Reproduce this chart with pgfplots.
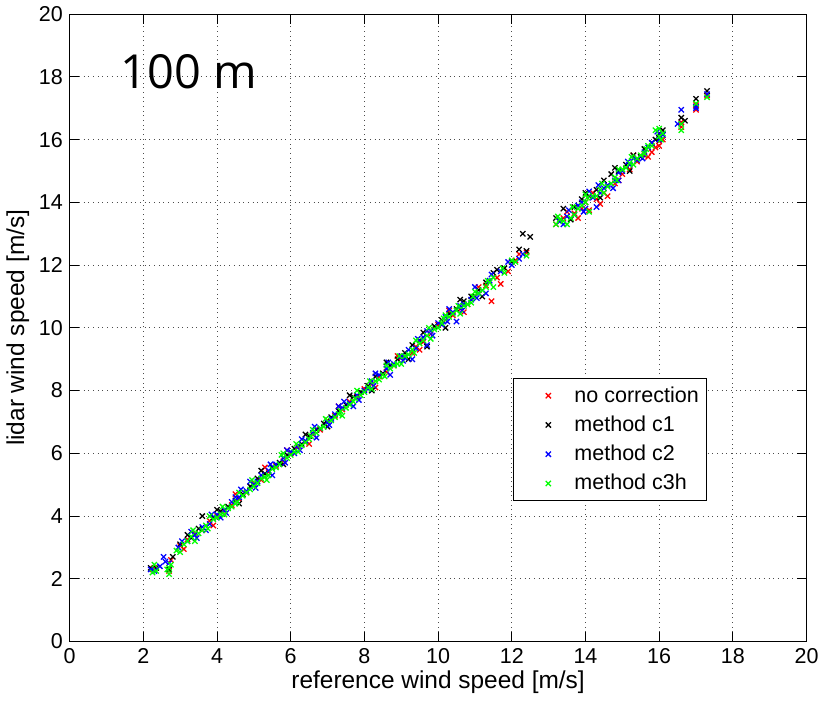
\documentclass[border=0pt]{standalone}
\usepackage{pgfplots}
\pgfplotsset{compat=1.18}
\usepackage{fontspec}
\setmainfont{Liberation Sans}
\newfontfamily\titlefont{Open Sans}

\definecolor{mred}{RGB}{255,0,0}
\definecolor{mblue}{RGB}{0,0,255}
\definecolor{mgreen}{RGB}{0,255,0}

\begin{document}
\begin{tikzpicture}
\begin{axis}[
    scale only axis,
    width=377pt,
    height=321pt,
    xmin=0, xmax=20,
    ymin=0, ymax=20,
    xtick={0,2,...,20},
    ytick={0,2,...,20},
    tick align=inside,
    major tick length=5pt,
    xmajorgrids=true,
    ymajorgrids=true,
    grid style={dotted, black!70},
    axis line style={line width=0.6pt},
    tick style={black, line width=0.5pt},
    tick label style={font=\fontsize{11}{13}\selectfont},
    label style={font=\fontsize{12.5}{14}\selectfont},
    /pgf/number format/assume math mode=true,
    xlabel={reference wind speed [m/s]},
    ylabel={lidar wind speed [m/s]},
    xlabel style={yshift=3pt},
    ylabel style={yshift=-2pt},
    legend cell align={left},
    legend style={at={(0.602,0.420)}, anchor=north west,
        font=\fontsize{11}{13}\selectfont, draw=black, line width=0.6pt,
        row sep=1.5pt, inner sep=2pt},
    legend image code/.code={\path[draw=none, fill=none] (0cm,0cm) -- (0.95cm,0cm); \draw[#1] plot[only marks] coordinates {(0.55cm,0cm)};},
    every axis plot/.append style={only marks, mark=x, mark size=1.9pt, line width=0.65pt},
]

\addplot[color=mred] coordinates {
(2.25,2.3)(2.3,2.35)(2.7,2.25)(2.75,2.6)(3.0,3.05)(3.2,3.25)(3.4,3.45)(3.6,3.55)
(3.8,3.85)(4.0,4.0)(4.2,4.15)(4.4,4.35)(4.6,4.55)(4.8,4.75)(5.0,5.05)(5.2,5.15)
(5.4,5.4)(5.6,5.6)(5.8,5.75)(6.0,6.0)(6.2,6.2)(6.4,6.35)(6.6,6.6)(6.8,6.75)
(7.0,7.05)(7.2,7.2)(7.4,7.4)(7.6,7.65)(7.8,7.8)(8.0,8.05)(8.2,8.2)(8.4,8.45)
(8.6,8.6)(8.8,8.8)(9.0,9.05)(9.3,9.2)(9.4,9.4)(9.6,9.55)(9.8,9.8)(10.0,10.1)
(10.2,10.25)(10.4,10.4)(10.6,10.6)(10.8,10.75)(11.0,11.0)(11.3,11.35)(11.45,10.85)
(11.6,11.6)(11.9,11.8)(12.1,12.15)(12.4,12.4)(13.2,13.3)(13.4,13.5)(13.7,13.65)
(13.9,13.8)(14.0,14.0)(14.1,13.75)(14.3,14.1)(14.5,14.3)(14.6,14.2)(14.8,14.6)
(15.0,14.9)(15.2,15.05)(15.4,15.3)(15.6,15.5)(15.8,15.6)(16.0,15.8)(16.1,16.0)
(16.6,16.4)(17.0,17.1)(17.3,17.4)
(3.1,2.95)(3.9,3.7)(4.5,4.7)(5.3,5.55)(5.9,6.1)(6.5,6.3)(7.3,7.5)(8.3,8.1)
(8.9,9.1)(9.5,9.3)(10.3,10.55)(10.7,10.5)(11.1,11.3)(11.7,11.4)(12.2,12.35)
(13.5,13.7)(13.8,13.5)(14.2,14.3)(14.4,13.95)(14.9,14.7)(15.3,15.5)(15.7,15.45)
(15.9,15.75)(16.0,15.95)(16.6,16.55)(17.0,16.95)
};
\addlegendentry{no correction}

\addplot[color=black] coordinates {
(2.2,2.35)(2.35,2.35)(2.7,2.3)(2.8,2.7)(3.0,3.1)(3.3,3.3)(3.5,3.6)(3.6,4.0)
(3.9,3.95)(4.1,4.15)(4.3,4.3)(4.5,4.5)(4.7,4.7)(4.9,4.95)(5.1,5.2)(5.3,5.35)
(5.5,5.55)(5.7,5.7)(5.9,5.95)(6.1,6.15)(6.3,6.3)(6.5,6.55)(6.7,6.75)(6.9,6.95)
(7.1,7.15)(7.3,7.35)(7.5,7.55)(7.7,7.8)(7.9,7.95)(8.1,8.15)(8.3,8.45)(8.5,8.55)
(8.7,8.8)(8.9,9.0)(9.1,9.2)(9.3,9.45)(9.5,9.6)(9.7,9.4)(9.9,10.05)(10.1,10.25)
(10.3,10.45)(10.5,10.6)(10.7,10.85)(10.9,11.0)(11.1,11.2)(11.3,11.45)(11.5,11.75)
(11.8,11.9)(12.0,12.1)(12.2,12.5)(12.3,13.0)(12.5,12.9)(13.2,13.5)(13.4,13.8)
(13.7,13.85)(13.9,14.1)(14.1,14.2)(14.3,14.4)(14.5,14.7)(14.7,14.9)(14.9,15.0)
(15.1,15.2)(15.3,15.5)(15.6,15.7)(15.8,15.9)(16.0,16.2)(16.0,16.05)(16.6,16.7)
(17.0,17.3)(17.3,17.55)
(3.2,3.4)(4.0,4.2)(4.6,4.4)(5.2,5.45)(5.8,5.65)(6.4,6.6)(7.0,6.85)(7.6,7.85)
(8.2,8.0)(8.6,8.9)(9.2,9.0)(9.6,9.85)(10.2,10.0)(10.6,10.9)(11.2,11.0)(11.6,11.85)
(12.4,12.45)(13.3,13.4)(13.6,13.45)(14.0,14.3)(14.4,14.15)(14.8,15.1)(15.2,15.0)
(15.5,15.45)(15.9,16.0)(16.1,16.3)(16.7,16.6)
};
\addlegendentry{method c1}

\addplot[color=mblue] coordinates {
(2.2,2.3)(2.3,2.25)(2.55,2.7)(2.7,2.5)(2.95,3.0)(3.2,3.2)(3.4,3.4)(3.6,3.65)
(3.8,3.75)(4.0,4.05)(4.2,4.2)(4.4,4.45)(4.6,4.6)(4.8,4.8)(5.0,5.0)(5.2,5.3)
(5.4,5.45)(5.6,5.65)(5.8,5.85)(6.0,6.05)(6.2,6.25)(6.4,6.4)(6.6,6.65)(6.8,6.8)
(7.0,7.0)(7.2,7.25)(7.4,7.45)(7.6,7.6)(7.8,7.85)(8.0,8.0)(8.2,8.3)(8.4,8.5)
(8.6,8.7)(8.8,8.85)(9.0,9.1)(9.2,9.3)(9.4,9.35)(9.6,9.7)(9.8,9.9)(10.0,10.15)
(10.2,10.35)(10.4,10.5)(10.6,10.7)(9.7,9.45)(10.9,10.9)(11.1,11.1)(11.4,11.5)
(11.7,11.8)(12.0,12.0)(12.3,12.35)(13.3,13.4)(13.5,13.55)(13.7,13.6)(13.9,14.0)
(14.0,13.8)(14.2,14.15)(14.4,14.3)(14.6,14.55)(14.8,14.7)(15.0,15.0)(15.2,15.2)
(15.4,15.35)(15.6,15.6)(15.8,15.9)(16.0,16.0)(16.5,16.5)(17.0,17.0)(17.3,17.45)
(4.1,3.95)(5.1,5.1)(6.1,6.0)(7.1,7.1)(8.1,8.05)(9.1,9.05)(10.1,10.1)(14.9,14.95)
(2.6,2.55)(3.3,3.5)(3.7,3.55)(4.5,4.6)(4.9,5.1)(5.5,5.3)(5.9,6.1)(6.3,6.45)
(6.7,6.5)(7.3,7.5)(7.7,7.5)(8.3,8.55)(8.7,8.5)(9.3,9.0)(9.7,9.9)(10.3,10.6)
(10.5,10.2)(10.7,10.75)(11.0,11.3)(11.3,11.1)(11.9,12.1)(13.4,13.3)(13.8,13.9)
(14.1,14.35)(14.3,13.85)(14.5,14.45)(14.9,14.7)(15.3,15.4)(15.7,15.75)(16.1,16.15)
(16.6,16.95)(17.0,17.05)
(2.45,2.4)(3.05,3.2)(3.45,3.3)(3.85,4.05)(4.25,4.1)(4.65,4.85)(5.05,4.9)(5.45,5.65)
(5.85,5.7)(6.25,6.1)(6.65,6.85)(7.05,6.9)(7.45,7.65)(7.85,7.7)(8.25,8.15)(8.65,8.9)
(9.05,8.95)(9.45,9.65)(9.85,9.75)(10.25,10.2)(10.65,10.55)(11.05,10.95)(11.45,11.7)
(12.2,12.2)(13.55,13.75)(13.95,13.7)(14.35,14.55)(14.75,14.45)(15.15,15.3)(15.55,15.4)
(15.95,16.25)
};
\addlegendentry{method c2}

\addplot[color=mgreen] coordinates {
(2.25,2.2)(2.35,2.25)(2.7,2.35)(2.65,2.3)(2.9,2.9)(3.1,3.1)(3.3,3.35)(3.5,3.45)
(3.7,3.7)(3.9,3.9)(4.1,4.05)(4.3,4.25)(4.5,4.4)(4.7,4.65)(4.9,4.85)(5.1,5.05)
(5.3,5.25)(5.5,5.5)(5.7,5.65)(5.9,5.85)(6.1,6.05)(6.3,6.25)(6.5,6.45)(6.7,6.65)
(6.9,6.85)(7.1,7.05)(7.3,7.25)(7.5,7.45)(7.7,7.65)(7.9,7.85)(8.1,8.1)(8.3,8.3)
(8.5,8.5)(8.7,8.7)(8.9,8.85)(9.1,9.1)(9.3,9.3)(9.5,9.5)(9.7,9.75)(9.9,9.95)
(10.1,10.15)(10.3,10.35)(10.5,10.55)(10.7,10.7)(10.9,10.8)(11.1,11.1)(11.3,11.3)
(11.5,11.6)(11.5,11.3)(11.8,11.75)(12.1,12.1)(12.4,12.3)(13.2,13.3)(13.4,13.4)
(13.6,13.5)(13.8,13.8)(14.0,14.0)(14.1,13.7)(14.2,14.2)(14.4,14.4)(14.6,14.5)
(14.8,14.8)(15.0,15.05)(15.2,15.25)(15.4,15.4)(15.6,15.55)(15.8,15.8)(16.0,16.35)
(16.1,16.2)(16.6,16.5)(17.0,17.15)(17.3,17.35)
(3.2,3.2)(3.6,3.55)(4.0,3.95)(4.4,4.3)(4.8,4.75)(5.0,4.95)(5.2,5.2)(5.6,5.55)
(6.0,5.95)(6.4,6.35)(6.8,6.8)(7.2,7.15)(7.6,7.55)(8.0,7.95)(8.4,8.35)(8.8,8.8)
(9.2,9.15)(9.6,9.6)(10.0,10.0)(10.4,10.45)(10.8,10.75)(11.2,11.2)(13.5,13.3)
(13.9,13.9)(14.3,14.2)(14.7,14.6)(15.1,15.1)(15.5,15.5)(15.9,16.3)
(2.7,2.15)(3.4,3.2)(3.8,4.0)(4.2,4.05)(4.6,4.75)(5.4,5.3)(5.8,6.0)(6.2,6.05)
(6.6,6.75)(7.4,7.2)(7.8,8.0)(8.2,8.05)(8.6,8.8)(9.0,8.85)(9.4,9.6)(9.8,9.65)
(10.2,10.4)(10.6,10.45)(11.0,11.15)(11.4,11.45)(12.0,12.15)(13.3,13.45)(13.7,13.6)
(14.0,14.25)(14.5,14.3)(14.9,15.05)(15.3,15.2)(15.7,15.8)(16.0,16.1)(16.6,16.3)
(2.3,2.45)(2.75,2.45)(3.0,2.85)(3.35,3.55)(3.75,3.6)(4.15,4.3)(4.55,4.45)(4.95,5.15)
(5.35,5.15)(5.75,5.95)(6.15,6.3)(6.55,6.55)(6.95,7.1)(7.35,7.35)(7.75,7.75)(8.15,8.3)
(8.55,8.45)(8.95,9.1)(9.35,9.2)(9.75,10.0)(10.15,10.3)(10.55,10.7)(10.95,11.0)
(11.35,11.5)(11.75,11.9)(13.25,13.55)(13.65,13.85)(14.05,14.15)(14.45,14.6)
(14.85,14.7)(15.25,15.45)(15.65,15.7)(16.05,16.0)
};
\addlegendentry{method c3h}

\node[anchor=west, font=\titlefont\fontsize{24}{28}\selectfont] at (axis cs:1.2,18.15) {100 m};

\end{axis}
\end{tikzpicture}
\end{document}
